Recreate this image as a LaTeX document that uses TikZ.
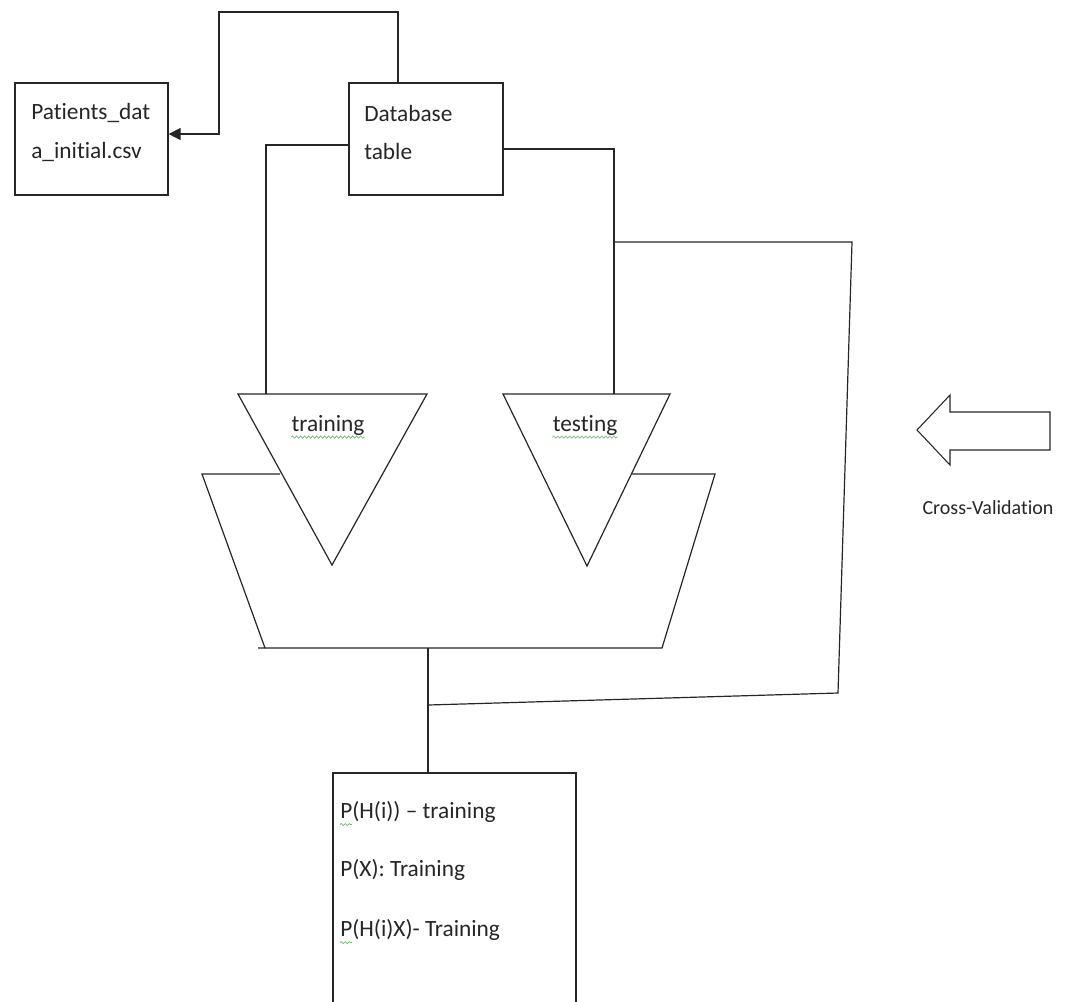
\documentclass[tikz,border=0pt]{standalone}
\usepackage{fontspec}
\setmainfont{Carlito}[Ligatures={NoCommon,NoContextual}]
\usepackage{tikz}
\tikzset{x=.75pt,y=-.75pt}
\usetikzlibrary{arrows.meta, calc, decorations.pathmorphing}
\definecolor{spell}{RGB}{120,175,120}
\tikzset{
  wire/.style={line width=.9pt, draw=black!85},
  box/.style={draw=black!85, line width=.9pt, rectangle, inner sep=0pt},
  txt/.style={inner sep=0pt, text=black!85, align=left,
    font=\fontsize{17.5}{29}\selectfont},
  squiggle/.style={draw=spell, line width=.5pt,
    decorate, decoration={snake, segment length=3pt, amplitude=.8pt}},
}

\begin{document}
\begin{tikzpicture}
\useasboundingbox (0,0) rectangle (1069,1001);
% the two boxes on top
\node[box, minimum width=114.75pt, minimum height=84pt] (pat) at (91.5,139) {};
\node[txt, anchor=west] (pattxt) at (31,132.5) {Patients\_dat\\a\_initial.csv};
\node[box, minimum width=115.5pt, minimum height=84pt] (db) at (426,139) {};
\node[txt, anchor=west] (dbtxt) at (364,132.5) {Database\\table};
% result box, runs off the bottom
\node[box, minimum width=182.25pt, minimum height=177.75pt] (res) at (454.5,891.5) {};
\node[txt, anchor=west] (res1) at (340,812) {P(H(i)) -- training};
\node[txt, anchor=west] (res2) at (340,870) {P(X): Training};
\node[txt, anchor=west] (res3) at (340,930) {P(H(i)X)- Training};

% mixing trapezoid, top edge only outside the funnels
\draw[wire] (280,474) -- (202,474) -- (265,648) -- (258,648);
\draw[wire] (265,648) -- (662,648) -- (715,474) -- (632,474);
% training / testing funnels
\draw[wire] (238,394) -- (427,394) -- (332,565) -- cycle;
\node[txt] (trn) at (328,425) {training};
\draw[wire] (503,394) -- (670,394) -- (587,566) -- cycle;
\node[txt] (tst) at (585,425) {testing};
\coordinate (trntop) at (266,394);
\coordinate (tsttop) at (614,394);
\coordinate (cvtop) at (614,242);

% spell-check marks
\draw[squiggle] ($(trn.base west)+(0,6)$) -- ($(trn.base east)+(0,6)$);
\draw[squiggle] ($(tst.base west)+(0,6)$) -- ($(tst.base east)+(0,6)$);
\draw[squiggle] ($(res1.base west)+(0,6)$) -- ++(12,0);
\draw[squiggle] ($(res3.base west)+(0,6)$) -- ++(12,0);

% connectors
\draw[wire, -{Triangle[length=9pt,width=9pt]}] ($(db.north)+(-28,0)$) |- (219,12) |- ($(pat.east)+(0,-5)$);
\draw[wire] ($(db.west)+(0,6)$) -| (trntop);
\draw[wire] ($(db.east)+(0,10)$) -| (tsttop);
\coordinate (mixb) at (428,648);
\coordinate (cvjoin) at (428,705);
\draw[wire] (mixb) -- (mixb |- res.north);
\draw[wire] (cvtop) -- (852,242) -- (838,693) -- (cvjoin);

% cross-validation arrow
\draw[wire, line width=.8pt] (917,430) -- (950,395) -- (950,412) -- (1050,412)
  -- (1050,450) -- (950,450) -- (950,465) -- cycle;
\node[txt, font=\fontsize{15}{18}\selectfont] (cvlbl) at (988,508) {Cross-Validation};
\end{tikzpicture}
\end{document}
